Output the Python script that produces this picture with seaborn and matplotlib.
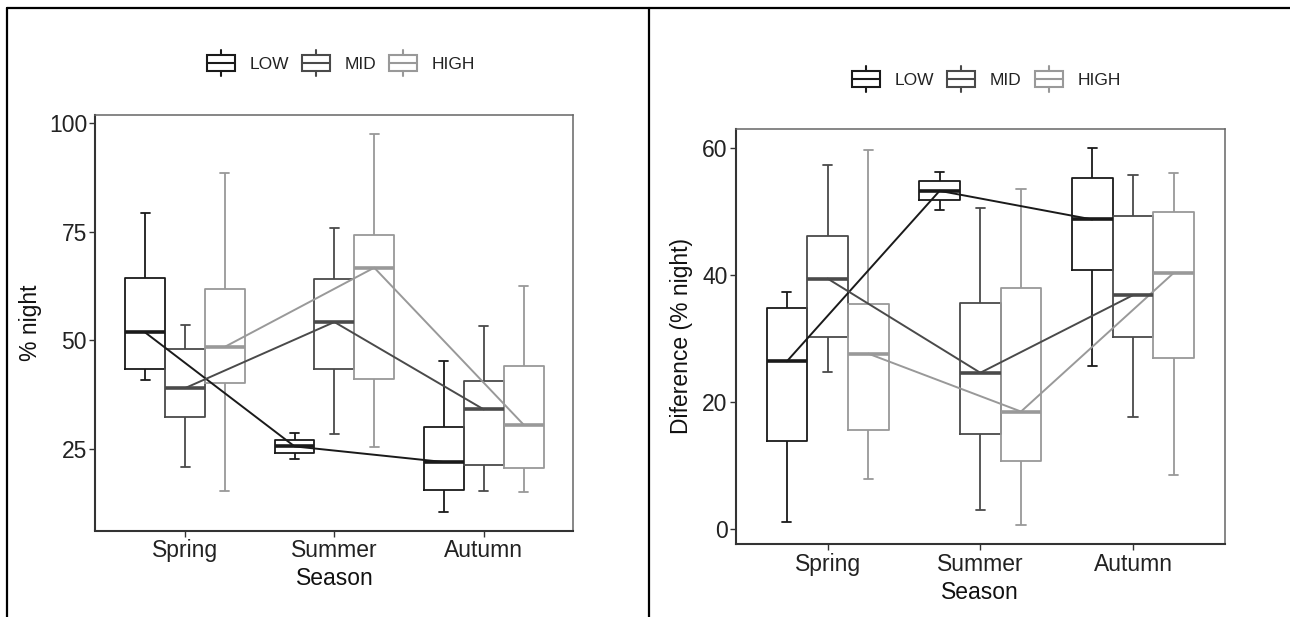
import numpy as np
import pandas as pd
import matplotlib
matplotlib.use("Agg")
import matplotlib.pyplot as plt
import seaborn as sns
from matplotlib.legend_handler import HandlerBase
from matplotlib.patches import Rectangle
from matplotlib.lines import Line2D

# ---------------- data (five-number summaries: whisker low, Q1, median, Q3, whisker high)
seasons = ["Spring", "Summer", "Autumn"]
levels = ["LOW", "MID", "HIGH"]

night_low = [[40.9, 43.4, 51.8, 64.3, 79.3], [22.7, 24.1, 25.6, 27.0, 28.6], [10.6, 15.6, 22.0, 30.0, 45.3]]
night_mid = [[20.9, 32.3, 39.0, 48.1, 53.6], [28.4, 43.4, 54.2, 64.0, 75.9], [15.3, 21.4, 34.1, 40.6, 53.2]]
night_high = [[15.4, 40.2, 48.5, 61.7, 88.5], [25.4, 41.0, 66.7, 74.1, 97.4], [15.0, 20.7, 30.6, 44.0, 62.5]]

diff_low = [[1.2, 13.9, 26.4, 34.8, 37.3], [50.2, 51.7, 53.2, 54.7, 56.2], [25.6, 40.8, 48.7, 55.2, 60.0]]
diff_mid = [[24.7, 30.2, 39.4, 46.1, 57.3], [3.0, 14.9, 24.6, 35.5, 50.5], [17.6, 30.2, 36.8, 49.2, 55.7]]
diff_high = [[7.9, 15.6, 27.6, 35.4, 59.6], [0.6, 10.8, 18.5, 37.9, 53.5], [8.5, 26.9, 40.3, 49.9, 56.0]]

night_ticks = [25, 50, 75, 100]
diff_ticks = [0, 20, 40, 60]

colors = ["#1a1a1a", "#4a4a4a", "#999999"]

# ---------------- style
sns.set_style("white")
plt.rcParams["font.family"] = ["Liberation Sans", "DejaVu Sans"]


def long_df(low, mid, high):
    rows = []
    for lev, arr in zip(levels, [low, mid, high]):
        for s, vals in zip(seasons, arr):
            for v in vals:
                rows.append({"Season": s, "Level": lev, "value": v})
    return pd.DataFrame(rows)


class BoxHandler(HandlerBase):
    def create_artists(self, legend, orig_handle, xdescent, ydescent,
                       width, height, fontsize, trans):
        c = orig_handle.get_color()
        lw = 1.5
        bh = height * 0.62
        x0 = -xdescent
        y0 = -ydescent + (height - bh) / 2
        cx = x0 + width / 2
        rect = Rectangle((x0, y0), width, bh, fill=False, edgecolor=c, lw=lw, transform=trans)
        med = Line2D([x0, x0 + width], [y0 + bh / 2] * 2, color=c, lw=lw, transform=trans)
        w1 = Line2D([cx, cx], [y0 + bh, -ydescent + height], color=c, lw=lw, transform=trans)
        w2 = Line2D([cx, cx], [-ydescent, y0], color=c, lw=lw, transform=trans)
        return [rect, med, w1, w2]


def panel(ax, df, ylabel, ticks, leg_xy, ylab_x):
    sns.boxplot(data=df, x="Season", y="value", hue="Level", order=seasons,
                hue_order=levels, palette=colors, fill=False, whis=(0, 100),
                width=0.8, gap=0, linewidth=1.3, legend=False, ax=ax,
                medianprops=dict(linewidth=2.6), capwidths=0.06)
    sns.pointplot(data=df, x="Season", y="value", hue="Level", order=seasons,
                  hue_order=levels, palette=colors, estimator="median",
                  errorbar=None, dodge=0.8 - 0.8 / 3, markers="", linestyles="-",
                  linewidth=1.4, legend=False, ax=ax)
    vals = df["value"].to_numpy()
    lo, hi = vals.min(), vals.max()
    pad = 0.05 * (hi - lo)
    ax.set_ylim(lo - pad, hi + pad)
    ax.set_xlim(-0.6, 2.6)
    ax.set_yticks(ticks)
    ax.set_xlabel("Season", fontsize=16.5, color="#111111", labelpad=4)
    ax.set_ylabel(ylabel, fontsize=16.5, color="#111111")
    ax.yaxis.set_label_coords(ylab_x, 0.5)
    ax.tick_params(axis="both", which="both", direction="out", length=4, width=1,
                   colors="#333333", labelsize=16.5, pad=2, left=True, bottom=True)
    ax.tick_params(axis="both", labelcolor="#222222")
    for side in ["left", "bottom"]:
        ax.spines[side].set_color("#333333")
        ax.spines[side].set_linewidth(1.5)
    for side in ["top", "right"]:
        ax.spines[side].set_color("#666666")
        ax.spines[side].set_linewidth(1.1)
    handles = [Line2D([], [], color=c) for c in colors]
    fig = ax.figure
    fig.legend(handles, levels, loc="center", bbox_to_anchor=leg_xy,
               bbox_transform=fig.transFigure, ncol=3, frameon=False,
               fontsize=12.5, handler_map={Line2D: BoxHandler()},
               handlelength=1.6, handleheight=2.0, handletextpad=0.85,
               columnspacing=0.75, labelcolor="#222222")


W, H = 1290, 617
fig = plt.figure(figsize=(W / 100, H / 100), dpi=100)
ax1 = fig.add_axes([95.4 / W, 1 - 530.5 / H, 478 / W, 415.2 / H])
ax2 = fig.add_axes([736 / W, 1 - 544.3 / H, 488.6 / W, 415.6 / H])

panel(ax1, long_df(night_low, night_mid, night_high), "% night", night_ticks,
      (341 / W, 1 - 63 / H), -0.112)
panel(ax2, long_df(diff_low, diff_mid, diff_high), "Diference (% night)", diff_ticks,
      (986.5 / W, 1 - 79 / H), -0.088)

# outer frame lines of the composite figure
for xs, ys in [([6.5, W], [H - 8, H - 8]), ([6.5, 6.5], [0, H - 8]), ([649, 649], [0, H - 8])]:
    fig.add_artist(Line2D([x / W for x in xs], [y / H for y in ys], color="black",
                          lw=1.6, transform=fig.transFigure))

fig.savefig("out.png", dpi=100)
